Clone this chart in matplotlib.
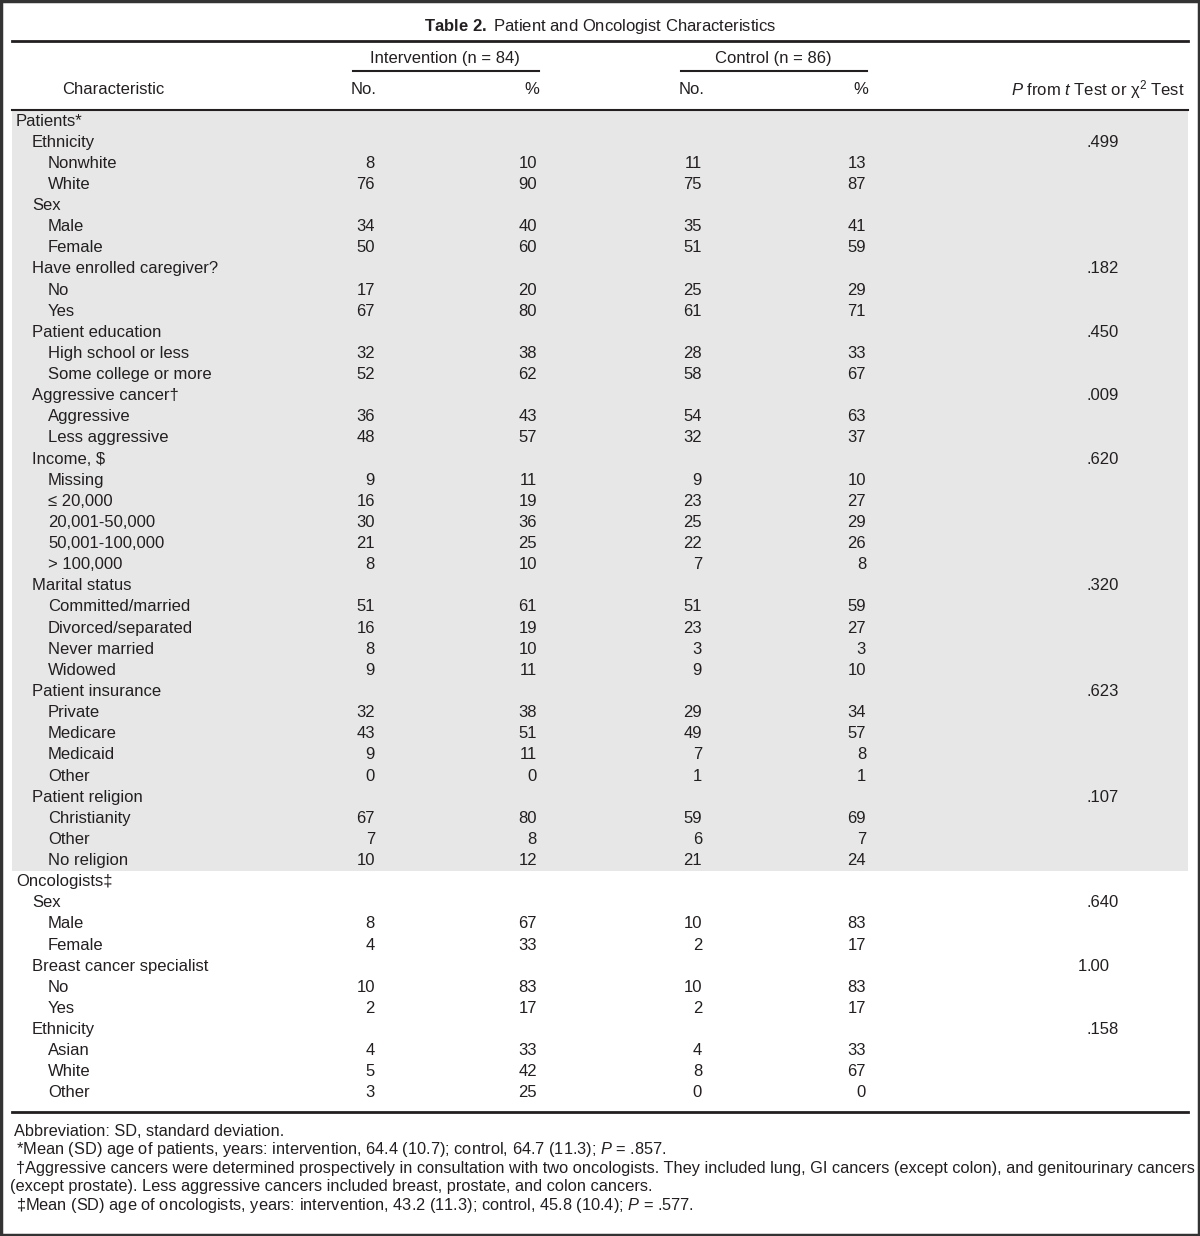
import matplotlib
matplotlib.use("Agg")
import matplotlib.pyplot as plt
from matplotlib.patches import Rectangle

plt.rcParams['font.family'] = ['Liberation Sans', 'DejaVu Sans']
plt.rcParams['mathtext.fontset'] = 'custom'
plt.rcParams['mathtext.rm'] = 'Liberation Sans'
plt.rcParams['mathtext.it'] = 'Liberation Sans:italic'
plt.rcParams['mathtext.bf'] = 'Liberation Sans:bold'

# данные таблицы
labels = ["Patients*", "Ethnicity", "Nonwhite", "White", "Sex", "Male", "Female",
          "Have enrolled caregiver?", "No", "Yes", "Patient education",
          "High school or less", "Some college or more", "Aggressive cancer\u2020",
          "Aggressive", "Less aggressive", "Income, $", "Missing", "\u2264 20,000",
          "20,001-50,000", "50,001-100,000", "> 100,000", "Marital status",
          "Committed/married", "Divorced/separated", "Never married", "Widowed",
          "Patient insurance", "Private", "Medicare", "Medicaid", "Other",
          "Patient religion", "Christianity", "Other", "No religion",
          "Oncologists\u2021", "Sex", "Male", "Female", "Breast cancer specialist",
          "No", "Yes", "Ethnicity", "Asian", "White", "Other"]
levels = [0, 1, 2, 2, 1, 2, 2, 1, 2, 2, 1, 2, 2, 1, 2, 2, 1, 2, 2, 2, 2, 2, 1,
          2, 2, 2, 2, 1, 2, 2, 2, 2, 1, 2, 2, 2,
          0, 1, 2, 2, 1, 2, 2, 1, 2, 2, 2]
int_no = [None, None, 8, 76, None, 34, 50, None, 17, 67, None, 32, 52, None, 36, 48,
          None, 9, 16, 30, 21, 8, None, 51, 16, 8, 9, None, 32, 43, 9, 0,
          None, 67, 7, 10, None, None, 8, 4, None, 10, 2, None, 4, 5, 3]
int_pct = [None, None, 10, 90, None, 40, 60, None, 20, 80, None, 38, 62, None, 43, 57,
           None, 11, 19, 36, 25, 10, None, 61, 19, 10, 11, None, 38, 51, 11, 0,
           None, 80, 8, 12, None, None, 67, 33, None, 83, 17, None, 33, 42, 25]
ctl_no = [None, None, 11, 75, None, 35, 51, None, 25, 61, None, 28, 58, None, 54, 32,
          None, 9, 23, 25, 22, 7, None, 51, 23, 3, 9, None, 29, 49, 7, 1,
          None, 59, 6, 21, None, None, 10, 2, None, 10, 2, None, 4, 8, 0]
ctl_pct = [None, None, 13, 87, None, 41, 59, None, 29, 71, None, 33, 67, None, 63, 37,
           None, 10, 27, 29, 26, 8, None, 59, 27, 3, 10, None, 34, 57, 8, 1,
           None, 69, 7, 24, None, None, 83, 17, None, 83, 17, None, 33, 67, 0]
pvals = [None, ".499", None, None, None, None, None, ".182", None, None, ".450",
         None, None, ".009", None, None, ".620", None, None, None, None, None, ".320",
         None, None, None, None, ".623", None, None, None, None, ".107", None, None, None,
         None, ".640", None, None, "1.00", None, None, ".158", None, None, None]
n_patient_rows = 36

footnotes = [
    "Abbreviation: SD, standard deviation.",
    "*Mean (SD) age of patients, years: intervention, 64.4 (10.7); control, 64.7 (11.3); $\\it{P}$ = .857.",
    "\u2020Aggressive cancers were determined prospectively in consultation with two oncologists. They included lung, GI cancers (except colon), and genitourinary cancers",
    "(except prostate). Less aggressive cancers included breast, prostate, and colon cancers.",
    "\u2021Mean (SD) age of oncologists, years: intervention, 43.2 (11.3); control, 45.8 (10.4); $\\it{P}$ = .577.",
]
foot_x = [14, 16, 16, 10, 16]

W, H = 1200, 1236
fig = plt.figure(figsize=(12, 12.36), dpi=100)
ax = fig.add_axes([0, 0, 1, 1])
ax.set_xlim(0, W)
ax.set_ylim(H, 0)
ax.axis('off')

txt = '#231f20'
fs = 12
row0, dy = 121, 21.13
x_lvl = [16, 32, 48]
col_x = [375, 537, 702, 866]
p_dec = 1087

# рамка
ax.add_patch(Rectangle((1, 1), W - 2, H - 2, fill=False, ec='#333333', lw=2.5))

# заголовок
ax.text(600, 27, r"$\bf{Table\ 2.}$" + " Patient and Oncologist Characteristics",
        ha='center', va='center', fontsize=fs, color=txt)
ax.plot([12, 1188], [41, 41], color='#231f20', lw=2)
ax.text(445, 59, "Intervention (n = 84)", ha='center', va='center', fontsize=fs, color=txt)
ax.plot([353, 539], [71, 71], color='#231f20', lw=1.5)
ax.text(773, 59, "Control (n = 86)", ha='center', va='center', fontsize=fs, color=txt)
ax.plot([681, 867], [71, 71], color='#231f20', lw=1.5)
ax.text(113, 90, "Characteristic", ha='center', va='center', fontsize=fs, color=txt)
for x, s in zip(col_x, ["No.", "%", "No.", "%"]):
    ax.text(x + 2, 90, s, ha='right', va='center', fontsize=fs, color=txt)
ax.text(1185, 90, "$\\it{P}$ from $\\it{t}$ Test or \u03c7$^2$ Test", ha='right', va='center',
        fontsize=fs, color=txt)

# фон для пациентов
y_top = 110
y_split = row0 + (n_patient_rows - 0.5) * dy
ax.add_patch(Rectangle((12, y_top), 1176, y_split - y_top, color='#e6e7e6', lw=0))
ax.plot([12, 1188], [y_top, y_top], color='#231f20', lw=1.5)

for i, lab in enumerate(labels):
    y = row0 + i * dy
    ax.text(x_lvl[levels[i]], y, lab, ha='left', va='center', fontsize=fs, color=txt)
    for x, col in zip(col_x, [int_no, int_pct, ctl_no, ctl_pct]):
        if col[i] is not None:
            ax.text(x, y, str(col[i]), ha='right', va='center', fontsize=fs, color=txt)
    if pvals[i] is not None:
        a, b = pvals[i].split('.')
        ax.text(p_dec, y, a, ha='right', va='center', fontsize=fs, color=txt)
        ax.text(p_dec, y, '.' + b, ha='left', va='center', fontsize=fs, color=txt)

y_bot = row0 + (len(labels) - 0.5) * dy + 8
ax.plot([12, 1188], [y_bot, y_bot], color='#231f20', lw=2)

for k, (s, x) in enumerate(zip(footnotes, foot_x)):
    ax.text(x, 1131 + k * 18.6, s, ha='left', va='center', fontsize=11.8, color=txt)

fig.savefig("out.png", dpi=100)
